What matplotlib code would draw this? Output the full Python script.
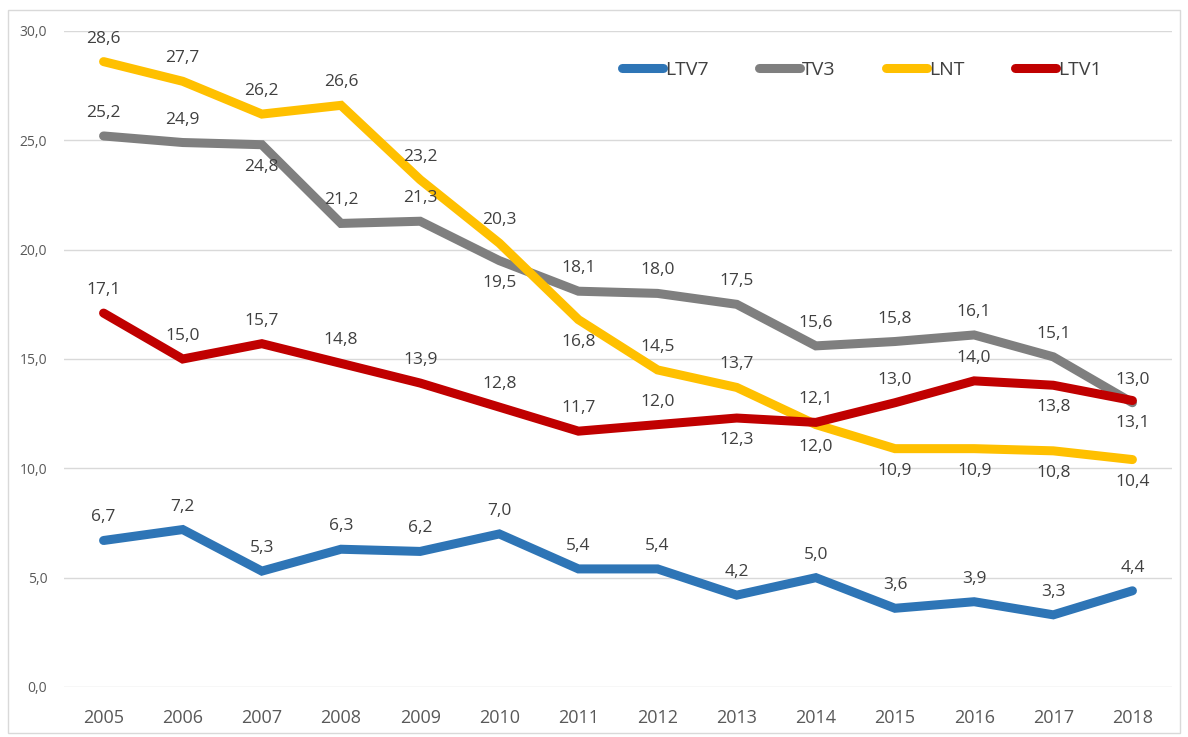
import matplotlib.pyplot as plt
from matplotlib.patches import Rectangle

years = ['2005', '2006', '2007', '2008', '2009', '2010', '2011',
         '2012', '2013', '2014', '2015', '2016', '2017', '2018']
ltv7 = [6.7, 7.2, 5.3, 6.3, 6.2, 7.0, 5.4, 5.4, 4.2, 5.0, 3.6, 3.9, 3.3, 4.4]
tv3 = [25.2, 24.9, 24.8, 21.2, 21.3, 19.5, 18.1, 18.0, 17.5, 15.6, 15.8, 16.1, 15.1, 13.0]
lnt = [28.6, 27.7, 26.2, 26.6, 23.2, 20.3, 16.8, 14.5, 13.7, 12.0, 10.9, 10.9, 10.8, 10.4]
ltv1 = [17.1, 15.0, 15.7, 14.8, 13.9, 12.8, 11.7, 12.0, 12.3, 12.1, 13.0, 14.0, 13.8, 13.1]

# which labels go under the line (1 = below)
tv3_below = [0, 0, 1, 0, 0, 1, 0, 0, 0, 0, 0, 0, 0, 0]
lnt_below = [0, 0, 0, 0, 0, 0, 1, 0, 0, 1, 1, 1, 1, 1]
ltv1_below = [0, 0, 0, 0, 0, 0, 0, 0, 1, 0, 0, 0, 1, 1]
ltv7_below = [0] * 14

plt.rcParams['font.family'] = ['Open Sans', 'DejaVu Sans']

fig = plt.figure(figsize=(11.88, 7.37), dpi=100)
ax = fig.add_axes([64 / 1188, 50 / 737, (1172 - 64) / 1188, (687 - 31) / 737])

x = list(range(len(years)))
series = [
    ('LTV7', ltv7, '#2e75b6', ltv7_below),
    ('TV3', tv3, '#7f7f7f', tv3_below),
    ('LNT', lnt, '#ffc000', lnt_below),
    ('LTV1', ltv1, '#c00000', ltv1_below),
]

for name, vals, col, below in series:
    ax.plot(x, vals, color=col, lw=6.5, label=name, solid_capstyle='round',
            solid_joinstyle='miter', zorder=3)
    for xi, v, b in zip(x, vals, below):
        off = -22 if b else 23
        ax.annotate(f'{v:.1f}'.replace('.', ','), (xi, v), xytext=(0, off),
                    textcoords='offset pixels', ha='center', va='center',
                    fontsize=12.5, color='#404040', zorder=4)

ax.set_xlim(-0.5, 13.5)
ax.set_ylim(0, 30)
ax.set_yticks([0, 5, 10, 15, 20, 25, 30])
ax.set_yticklabels([f'{t:.1f}'.replace('.', ',') for t in [0, 5, 10, 15, 20, 25, 30]])
ax.set_xticks(x)
ax.set_xticklabels(years)
ax.tick_params(axis='y', length=0, labelsize=10, labelcolor='#595959', pad=12)
ax.tick_params(axis='x', length=0, labelsize=13, labelcolor='#595959', pad=16)
ax.grid(axis='y', color='#d9d9d9', lw=1)
ax.set_axisbelow(True)
for s in ax.spines.values():
    s.set_visible(False)

leg = ax.legend(loc='center', bbox_to_anchor=(862 / 1188, 1 - 70 / 737),
                bbox_transform=fig.transFigure, ncol=4, frameon=False,
                fontsize=14, handlelength=2.1, handletextpad=0.1,
                columnspacing=2.6)
for t in leg.get_texts():
    t.set_color('#404040')

fig.patches.append(Rectangle((8 / 1188, 4 / 737), 1172 / 1188, 723 / 737,
                             transform=fig.transFigure, fill=False,
                             edgecolor='#d9d9d9', lw=1))

plt.savefig('out.png', dpi=100)
